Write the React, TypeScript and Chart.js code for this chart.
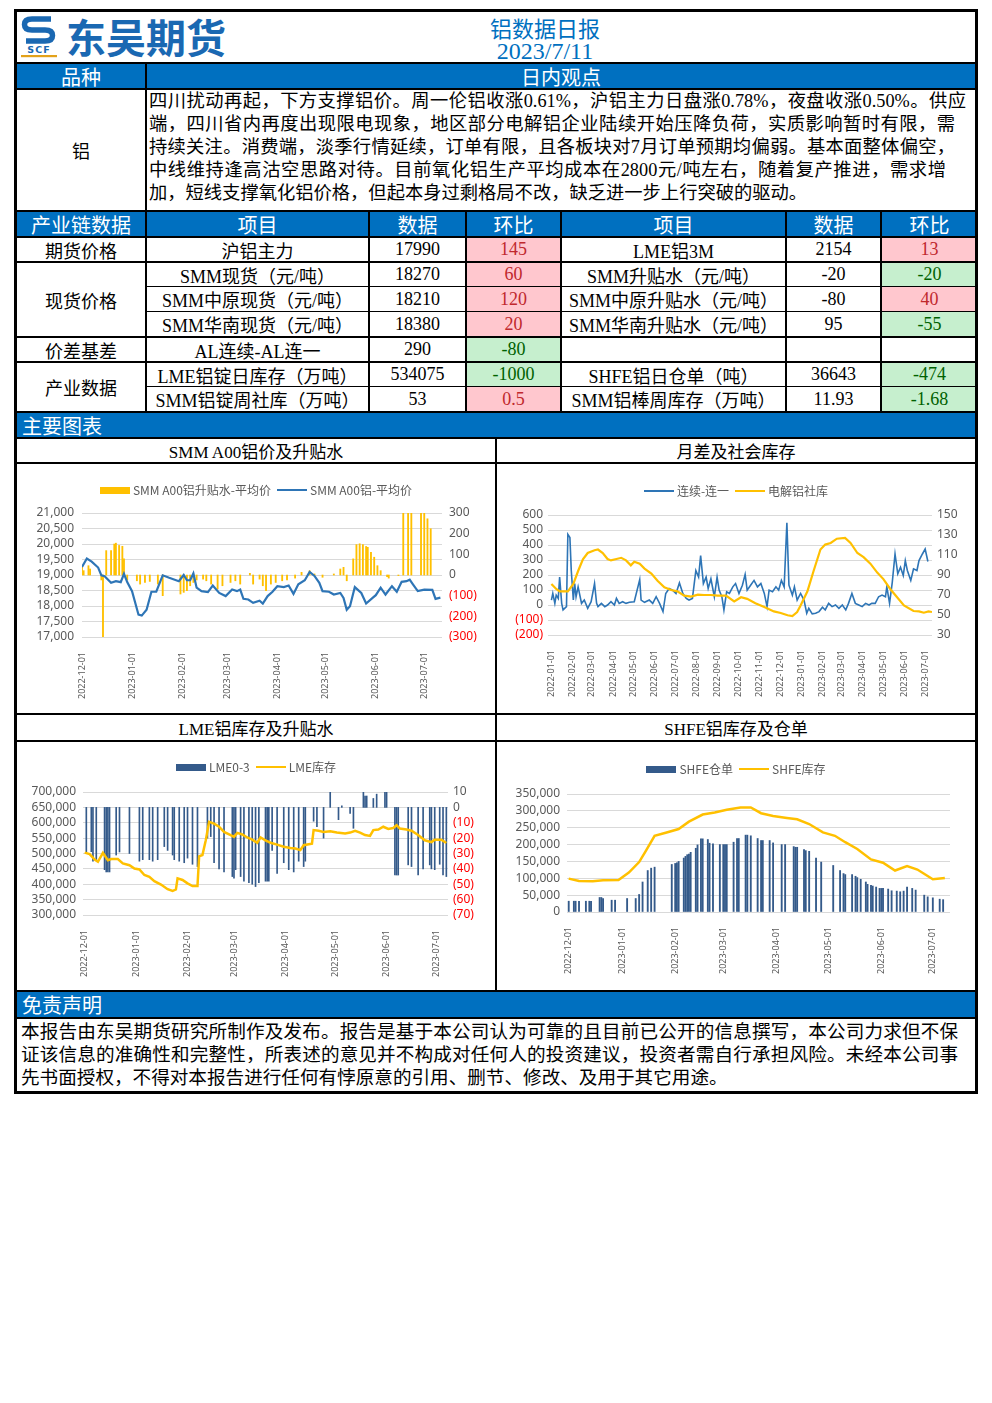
import React, { useEffect, useRef } from 'react';
import { Chart, registerables } from 'chart.js';

Chart.register(...registerables);

// ---------------- SMM A00 aluminium: average price (line) & premium (bars) ----------------
const a00PriceDates = [
  '2022-12-01', '2022-12-04', '2022-12-07', '2022-12-11', '2022-12-13', '2022-12-15', '2022-12-19', '2022-12-22', '2022-12-25', '2022-12-27',
  '2022-12-29', '2023-01-01', '2023-01-05', '2023-01-07', '2023-01-10', '2023-01-13', '2023-01-16', '2023-01-20', '2023-01-24', '2023-01-30',
  '2023-02-02', '2023-02-04', '2023-02-06', '2023-02-08', '2023-02-10', '2023-02-13', '2023-02-17', '2023-02-20', '2023-02-24', '2023-02-28',
  '2023-03-04', '2023-03-07', '2023-03-09', '2023-03-11', '2023-03-14', '2023-03-17', '2023-03-21', '2023-03-23', '2023-03-26', '2023-03-29',
  '2023-04-01', '2023-04-05', '2023-04-08', '2023-04-11', '2023-04-14', '2023-04-18', '2023-04-21', '2023-04-24', '2023-04-27', '2023-04-29',
  '2023-05-03', '2023-05-06', '2023-05-10', '2023-05-12', '2023-05-14', '2023-05-16', '2023-05-19', '2023-05-23', '2023-05-26', '2023-05-30',
  '2023-06-01', '2023-06-04', '2023-06-07', '2023-06-11', '2023-06-14', '2023-06-17', '2023-06-20', '2023-06-22', '2023-06-24', '2023-06-27',
  '2023-07-01', '2023-07-06', '2023-07-08', '2023-07-11',
];
const a00PriceValues = [
  19260, 19530, 19430, 19240, 18990, 18960, 18750, 18800, 18770, 19040,
  18770, 18480, 17720, 17690, 17880, 18460, 18460, 18990, 18910, 18800,
  19000, 18830, 18830, 19050, 18590, 18480, 18450, 18660, 18420, 18320,
  18530, 18480, 18530, 18230, 18210, 18100, 18170, 18080, 18320, 18460,
  18640, 18610, 18660, 18390, 18700, 18830, 19100, 18970, 18750, 18480,
  18460, 18370, 18420, 18260, 17880, 17990, 18610, 18420, 18080, 18260,
  18350, 18590, 18370, 18640, 18460, 18780, 18800, 18850, 18700, 18480,
  18530, 18520, 18230, 18270,
];
const a00PremiumDates = [
  '2022-12-01', '2022-12-02', '2022-12-05', '2022-12-06', '2022-12-13', '2022-12-14', '2022-12-16', '2022-12-19', '2022-12-21', '2022-12-22',
  '2022-12-24', '2022-12-26', '2022-12-27', '2022-12-29', '2023-01-04', '2023-01-06', '2023-01-09', '2023-01-12', '2023-01-17', '2023-01-20',
  '2023-01-31', '2023-02-02', '2023-02-04', '2023-02-06', '2023-02-08', '2023-02-10', '2023-02-14', '2023-02-16', '2023-02-19', '2023-02-23',
  '2023-02-26', '2023-03-03', '2023-03-06', '2023-03-09', '2023-03-15', '2023-03-17', '2023-03-21', '2023-03-23', '2023-03-25', '2023-03-28',
  '2023-03-31', '2023-04-04', '2023-04-07', '2023-04-12', '2023-04-16', '2023-04-21', '2023-04-24', '2023-04-29', '2023-05-06', '2023-05-10',
  '2023-05-12', '2023-05-14', '2023-05-18', '2023-05-20', '2023-05-22', '2023-05-24', '2023-05-26', '2023-05-27', '2023-05-29', '2023-05-31',
  '2023-06-02', '2023-06-04', '2023-06-08', '2023-06-09', '2023-06-15', '2023-06-18', '2023-06-21', '2023-06-23', '2023-06-29', '2023-07-01',
  '2023-07-03', '2023-07-05',
];
const a00PremiumValues = [
  37, 21, 45, 29, -24, -300, 118, 118, 150, 154,
  143, 139, 78, -24, -28, -44, -36, -31, -44, -100,
  -92, -84, -76, -52, -36, -24, -20, -28, -44, -68,
  -52, -36, -28, -44, 8, -44, -20, -52, -76, -44,
  -36, -28, -24, -15, 13, 21, 5, -11, 5, 29,
  37, -28, 78, 147, 151, 147, 138, 134, 110, 86,
  45, 21, -8, -15, -3, 300, 300, 300, 300, 300,
  272, 224,
];

// ---------------- AL continuous minus AL first month (line) & electrolytic aluminium social stock ----------------
const spreadDates = [
  '2022-01-01', '2022-01-03', '2022-01-06', '2022-01-08', '2022-01-11', '2022-01-13', '2022-01-16', '2022-01-18', '2022-01-23', '2022-01-25',
  '2022-01-28', '2022-01-30', '2022-02-02', '2022-02-04', '2022-02-06', '2022-02-09', '2022-02-14', '2022-02-18', '2022-02-23', '2022-02-28',
  '2022-03-05', '2022-03-08', '2022-03-10', '2022-03-15', '2022-03-20', '2022-03-24', '2022-03-29', '2022-04-03', '2022-04-06', '2022-04-10',
  '2022-04-15', '2022-04-20', '2022-04-25', '2022-05-02', '2022-05-10', '2022-05-12', '2022-05-17', '2022-05-24', '2022-05-29', '2022-06-03',
  '2022-06-08', '2022-06-13', '2022-06-17', '2022-06-22', '2022-06-27', '2022-07-02', '2022-07-07', '2022-07-12', '2022-07-17', '2022-07-21',
  '2022-07-26', '2022-07-31', '2022-08-04', '2022-08-07', '2022-08-11', '2022-08-15', '2022-08-18', '2022-08-22', '2022-08-27', '2022-08-31',
  '2022-09-03', '2022-09-07', '2022-09-10', '2022-09-14', '2022-09-18', '2022-09-23', '2022-09-27', '2022-10-02', '2022-10-07', '2022-10-11',
  '2022-10-14', '2022-10-19', '2022-10-24', '2022-10-29', '2022-11-03', '2022-11-08', '2022-11-12', '2022-11-15', '2022-11-20', '2022-11-25',
  '2022-11-29', '2022-12-03', '2022-12-07', '2022-12-11', '2022-12-14', '2022-12-19', '2022-12-22', '2022-12-26', '2022-12-31', '2023-01-05',
  '2023-01-09', '2023-01-12', '2023-01-17', '2023-01-22', '2023-01-27', '2023-02-01', '2023-02-05', '2023-02-10', '2023-02-15', '2023-02-20',
  '2023-02-25', '2023-03-02', '2023-03-07', '2023-03-11', '2023-03-16', '2023-03-21', '2023-03-26', '2023-03-31', '2023-04-05', '2023-04-10',
  '2023-04-14', '2023-04-19', '2023-04-24', '2023-04-29', '2023-05-04', '2023-05-06', '2023-05-10', '2023-05-14', '2023-05-18', '2023-05-22',
  '2023-05-26', '2023-05-30', '2023-06-02', '2023-06-05', '2023-06-10', '2023-06-14', '2023-06-19', '2023-06-22', '2023-06-27', '2023-07-01',
  '2023-07-05',
];
const spreadValues = [
  33, 77, 11, 66, 44, 186, 11, -33, -11, 471,
  450, 230, 33, 143, 55, 121, 11, 33, -22, 22,
  143, 11, -11, 11, -11, 0, 22, 0, 44, 11,
  22, 11, 18, 22, 169, 33, 18, 33, 11, 55,
  11, -44, 77, 110, 99, 77, 147, 77, 44, 33,
  44, 230, 186, 329, 143, 186, 110, 175, 55, 186,
  99, 55, -33, 88, 77, 121, 143, 77, 132, 204,
  99, 132, 164, 121, 143, 77, -11, 99, 88, 121,
  99, 164, 121, 548, 132, 66, 121, 33, 77, 33,
  -55, -22, -59, -55, -44, -15, -33, 11, -11, 0,
  -22, 0, -33, 11, 77, 11, 0, -11, 11, 0,
  11, 11, 55, 66, 55, 121, 11, 153, 340, 208,
  252, 197, 296, 230, 164, 241, 230, 296, 340, 373,
  290,
];
const socialStockDates = [
  '2022-01-01', '2022-01-08', '2022-01-13', '2022-01-25', '2022-02-02', '2022-02-09', '2022-02-16', '2022-02-23', '2022-03-05', '2022-03-10',
  '2022-03-17', '2022-03-24', '2022-03-29', '2022-04-06', '2022-04-13', '2022-04-20', '2022-04-27', '2022-05-02', '2022-05-10', '2022-05-17',
  '2022-05-27', '2022-06-05', '2022-06-15', '2022-06-25', '2022-07-04', '2022-07-14', '2022-07-24', '2022-08-03', '2022-08-12', '2022-08-22',
  '2022-09-01', '2022-09-13', '2022-09-25', '2022-10-05', '2022-10-14', '2022-10-26', '2022-11-08', '2022-11-22', '2022-12-02', '2022-12-12',
  '2022-12-19', '2022-12-26', '2022-12-31', '2023-01-10', '2023-01-19', '2023-01-29', '2023-02-05', '2023-02-13', '2023-02-22', '2023-03-06',
  '2023-03-14', '2023-03-24', '2023-04-02', '2023-04-12', '2023-04-22', '2023-05-01', '2023-05-11', '2023-05-21', '2023-05-31', '2023-06-14',
  '2023-06-22', '2023-06-29', '2023-07-06', '2023-07-11',
];
const socialStockValues = [
  81, 76, 73.7, 73.7, 81, 94, 105.6, 112, 114.8, 115.5,
  112, 106, 104.6, 106, 107.2, 104.6, 99.7, 103.3, 101.3, 96.4,
  91.4, 84.2, 77.6, 75, 73.7, 69.4, 68.4, 70.4, 70, 70,
  69.4, 69.4, 63.5, 67.8, 66.1, 61.8, 57.9, 53.6, 52, 49.7,
  49, 53, 59.5, 73.7, 94, 115.5, 120.4, 122, 126.3, 127,
  122, 112, 107.9, 101.3, 92.4, 85.9, 76, 67.8, 59.5, 54,
  53.6, 52.3, 53.6, 53,
];

// ---------------- LME aluminium stock (line) & cash-3M spread (bars) ----------------
const lmeStockDates = [
  '2022-12-01', '2022-12-04', '2022-12-07', '2022-12-09', '2022-12-12', '2022-12-15', '2022-12-17', '2022-12-21', '2022-12-24', '2022-12-28',
  '2022-12-31', '2023-01-03', '2023-01-06', '2023-01-09', '2023-01-12', '2023-01-16', '2023-01-20', '2023-01-23', '2023-01-25', '2023-01-26',
  '2023-01-29', '2023-02-01', '2023-02-04', '2023-02-07', '2023-02-08', '2023-02-10', '2023-02-12', '2023-02-14', '2023-02-17', '2023-02-20',
  '2023-02-23', '2023-02-27', '2023-03-01', '2023-03-03', '2023-03-06', '2023-03-09', '2023-03-12', '2023-03-15', '2023-03-17', '2023-03-20',
  '2023-03-23', '2023-03-27', '2023-03-31', '2023-04-04', '2023-04-07', '2023-04-10', '2023-04-12', '2023-04-15', '2023-04-17', '2023-04-18',
  '2023-04-21', '2023-04-24', '2023-04-28', '2023-05-02', '2023-05-07', '2023-05-10', '2023-05-13', '2023-05-16', '2023-05-19', '2023-05-22',
  '2023-05-24', '2023-05-27', '2023-05-30', '2023-06-02', '2023-06-05', '2023-06-07', '2023-06-09', '2023-06-13', '2023-06-16', '2023-06-20',
  '2023-06-24', '2023-06-28', '2023-06-30', '2023-07-04', '2023-07-07',
];
const lmeStockValues = [
  503000, 498000, 480000, 473000, 502000, 478000, 482000, 482000, 468000, 462000,
  451000, 448000, 430000, 424000, 410000, 399000, 384000, 378000, 383000, 419000,
  414000, 403000, 394000, 394000, 491000, 495000, 543000, 603000, 597000, 587000,
  570000, 560000, 554000, 567000, 562000, 552000, 545000, 535000, 552000, 543000,
  535000, 529000, 522000, 518000, 516000, 511000, 527000, 530000, 532000, 576000,
  574000, 570000, 572000, 568000, 565000, 568000, 574000, 568000, 560000, 557000,
  576000, 578000, 587000, 580000, 583000, 592000, 581000, 578000, 574000, 560000,
  543000, 537000, 545000, 545000, 534075,
];
const lmeSpreadDates = [
  '2022-12-02', '2022-12-05', '2022-12-06', '2022-12-08', '2022-12-13', '2022-12-14', '2022-12-15', '2022-12-16', '2022-12-20', '2022-12-22',
  '2022-12-28', '2023-01-03', '2023-01-05', '2023-01-09', '2023-01-11', '2023-01-14', '2023-01-18', '2023-01-20', '2023-01-23', '2023-01-24',
  '2023-01-27', '2023-01-30', '2023-02-01', '2023-02-04', '2023-02-07', '2023-02-13', '2023-02-15', '2023-02-17', '2023-02-20', '2023-02-23',
  '2023-02-28', '2023-03-01', '2023-03-02', '2023-03-05', '2023-03-07', '2023-03-10', '2023-03-12', '2023-03-14', '2023-03-16', '2023-03-20',
  '2023-03-21', '2023-03-22', '2023-03-24', '2023-03-27', '2023-03-31', '2023-04-03', '2023-04-06', '2023-04-09', '2023-04-12', '2023-04-13',
  '2023-04-18', '2023-04-20', '2023-04-24', '2023-04-28', '2023-05-03', '2023-05-05', '2023-05-10', '2023-05-12', '2023-05-18', '2023-05-19',
  '2023-05-20', '2023-05-24', '2023-05-26', '2023-05-31', '2023-06-01', '2023-06-06', '2023-06-07', '2023-06-08', '2023-06-14', '2023-06-16',
  '2023-06-20', '2023-06-23', '2023-06-27', '2023-06-28', '2023-06-30', '2023-07-03', '2023-07-05', '2023-07-07',
];
const lmeSpreadValues = [
  -28.8, -28.8, -35, -34, -40.5, -42, -42, -42, -31, -29,
  -30, -35, -34, -34, -35, -34, -25.5, -28, -31, -34,
  -35, -36, -33, -37, -38.5, -20, -19, -36, -40, -42,
  -45, -46, -40.5, -45, -48, -49, -50, -51.5, -49, -48,
  -48, -48, -28, -43, -36, -40.5, -42, -35, -38.5, -35,
  -9, -12.5, -20, 10, -8, 1, -4, -13.6, 10, 7.4,
  7.4, 5.8, 8.6, 10, 10, -44, -44, -44, -37.4, -38.5,
  -44, -40, -37.4, -40, -40.5, -37, -44, -45,
];

// ---------------- SHFE aluminium stock (line) & warrants (bars) ----------------
const shfeStockDates = [
  '2022-12-01', '2022-12-07', '2022-12-15', '2022-12-21', '2022-12-30', '2023-01-05', '2023-01-11', '2023-01-15', '2023-01-20', '2023-01-27',
  '2023-02-03', '2023-02-09', '2023-02-17', '2023-02-24', '2023-03-03', '2023-03-11', '2023-03-17', '2023-03-23', '2023-03-30', '2023-04-07',
  '2023-04-13', '2023-04-20', '2023-04-28', '2023-05-05', '2023-05-11', '2023-05-18', '2023-05-26', '2023-06-02', '2023-06-09', '2023-06-16',
  '2023-06-22', '2023-07-01', '2023-07-08',
];
const shfeStockValues = [
  99000, 92000, 91000, 94000, 95000, 117000, 148000, 182000, 226000, 236000,
  246000, 268000, 289000, 295000, 303000, 310000, 310000, 293000, 285000, 279000,
  275000, 261000, 236000, 226000, 207000, 187000, 156000, 146000, 123000, 136000,
  126000, 97000, 101000,
];
const shfeWarrantDates = [
  '2022-12-01', '2022-12-04', '2022-12-05', '2022-12-07', '2022-12-11', '2022-12-13', '2022-12-14', '2022-12-19', '2022-12-20', '2022-12-21',
  '2022-12-26', '2022-12-28', '2023-01-04', '2023-01-09', '2023-01-11', '2023-01-13', '2023-01-16', '2023-01-18', '2023-01-20', '2023-01-30',
  '2023-02-01', '2023-02-02', '2023-02-03', '2023-02-06', '2023-02-07', '2023-02-08', '2023-02-09', '2023-02-10', '2023-02-13', '2023-02-14',
  '2023-02-16', '2023-02-17', '2023-02-20', '2023-02-21', '2023-02-23', '2023-02-27', '2023-03-01', '2023-03-02', '2023-03-03', '2023-03-07',
  '2023-03-09', '2023-03-10', '2023-03-14', '2023-03-15', '2023-03-17', '2023-03-21', '2023-03-23', '2023-03-24', '2023-03-28', '2023-03-30',
  '2023-04-04', '2023-04-06', '2023-04-11', '2023-04-12', '2023-04-13', '2023-04-17', '2023-04-18', '2023-04-20', '2023-04-24', '2023-04-27',
  '2023-05-04', '2023-05-08', '2023-05-10', '2023-05-11', '2023-05-15', '2023-05-17', '2023-05-18', '2023-05-20', '2023-05-23', '2023-05-24',
  '2023-05-26', '2023-05-27', '2023-05-29', '2023-05-31', '2023-06-01', '2023-06-02', '2023-06-05', '2023-06-07', '2023-06-10', '2023-06-12',
  '2023-06-14', '2023-06-16', '2023-06-19', '2023-06-21', '2023-06-26', '2023-06-28', '2023-07-01', '2023-07-05', '2023-07-07',
];
const shfeWarrantValues = [
  32000, 32000, 32000, 32000, 32000, 32000, 32000, 43000, 43000, 40000,
  35000, 35000, 40000, 40000, 52000, 89000, 123000, 130000, 133000, 141000,
  144000, 146000, 150000, 160000, 165000, 170000, 172000, 177000, 189000, 199000,
  217000, 217000, 215000, 204000, 202000, 200000, 200000, 200000, 200000, 207000,
  218000, 218000, 228000, 228000, 226000, 218000, 212000, 212000, 212000, 205000,
  200000, 200000, 194000, 192000, 192000, 185000, 182000, 180000, 160000, 148000,
  138000, 123000, 114000, 111000, 111000, 106000, 102000, 97000, 89000, 82000,
  79000, 77000, 74000, 70000, 70000, 70000, 68000, 63000, 62000, 60000,
  62000, 74000, 70000, 65000, 50000, 45000, 42000, 38000, 36643,
];

// ---------------- report text ----------------
const reportTitle = '铝数据日报';
const reportDate = '2023/7/11';
const opinionLines = [
  '四川扰动再起，下方支撑铝价。周一伦铝收涨0.61%，沪铝主力日盘涨0.78%，夜盘收涨0.50%。供应',
  '端，四川省内再度出现限电现象，地区部分电解铝企业陆续开始压降负荷，实质影响暂时有限，需',
  '持续关注。消费端，淡季行情延续，订单有限，且各板块对7月订单预期均偏弱。基本面整体偏空，',
  '中线维持逢高沽空思路对待。目前氧化铝生产平均成本在2800元/吨左右，随着复产推进，需求增',
  '加，短线支撑氧化铝价格，但起本身过剩格局不改，缺乏进一步上行突破的驱动。',
];
const disclaimerLines = [
  '本报告由东吴期货研究所制作及发布。报告是基于本公司认为可靠的且目前已公开的信息撰写，本公司力求但不保',
  '证该信息的准确性和完整性，所表述的意见并不构成对任何人的投资建议，投资者需自行承担风险。未经本公司事',
  '先书面授权，不得对本报告进行任何有悖原意的引用、删节、修改、及用于其它用途。',
];
const tableHeader = ['产业链数据', '项目', '数据', '环比', '项目', '数据', '环比'];
const tableGroups = [
  { name: '期货价格', rows: [['沪铝主力', '17990', '145', 'LME铝3M', '2154', '13']] },
  {
    name: '现货价格',
    rows: [
      ['SMM现货（元/吨）', '18270', '60', 'SMM升贴水（元/吨）', '-20', '-20'],
      ['SMM中原现货（元/吨）', '18210', '120', 'SMM中原升贴水（元/吨）', '-80', '40'],
      ['SMM华南现货（元/吨）', '18380', '20', 'SMM华南升贴水（元/吨）', '95', '-55'],
    ],
  },
  { name: '价差基差', rows: [['AL连续-AL连一', '290', '-80', '', '', '']] },
  {
    name: '产业数据',
    rows: [
      ['LME铝锭日库存（万吨）', '534075', '-1000', 'SHFE铝日仓单（吨）', '36643', '-474'],
      ['SMM铝锭周社库（万吨）', '53', '0.5', 'SMM铝棒周库存（万吨）', '11.93', '-1.68'],
    ],
  },
];

// ---------------- styling ----------------
const CJK = '"Noto Sans CJK SC", sans-serif';
const SERIF = '"Liberation Serif", "Noto Sans CJK SC", serif';
const NUM = '"Noto Sans", "Noto Sans CJK SC", sans-serif';
const BAND = '#0070C0';
const GOLD = '#FFC000';
const LINE_BLUE = '#2E75B6';
const BAR_BLUE = '#345A8A';
const TICK = '#595959';
const GRID = '#D9D9D9';

// ---------------- chart helpers ----------------
const DAY = 86400000;
const dayNum = (iso: string) => Date.UTC(+iso.slice(0, 4), +iso.slice(5, 7) - 1, +iso.slice(8, 10)) / DAY;
const isoOf = (n: number) => new Date(Math.round(n) * DAY).toISOString().slice(0, 10);
const monthStarts = (from: string, to: string) => {
  const out: number[] = [];
  let y = +from.slice(0, 4);
  let m = +from.slice(5, 7) - 1;
  const end = dayNum(to);
  for (;;) {
    const v = Date.UTC(y, m, 1) / DAY;
    if (v > end) break;
    out.push(v);
    m += 1;
    if (m > 11) { m = 0; y += 1; }
  }
  return out;
};
const pts = (dates: string[], values: number[]) => dates.map((d, i) => ({ x: dayNum(d), y: values[i] }));
const thousands = (v: number) => Math.round(v).toLocaleString('en-US');
const paren = (v: number) => (v < 0 ? `(${Math.abs(v)})` : String(v));
const negRed = (ctx: any) => (ctx.tick && ctx.tick.value < 0 ? '#FF0000' : TICK);

const xAxis = (firstMonth: string, min: string, max: string, height: number) => ({
  type: 'linear',
  min: dayNum(min),
  max: dayNum(max),
  offset: false,
  grid: { display: false },
  border: { display: false },
  ticks: {
    autoSkip: false,
    minRotation: 90,
    maxRotation: 90,
    padding: 7,
    color: TICK,
    font: { family: NUM, size: 9 },
    callback: (v: number) => isoOf(v),
  },
  afterBuildTicks: (s: any) => {
    s.ticks = monthStarts(firstMonth, max).map((v) => ({ value: v }));
  },
  afterFit: (s: any) => {
    s.height = height;
  },
});

const yAxis = (position: string, min: number, max: number, step: number, width: number, fmt: (v: number) => string, grid: boolean, pad: number) => ({
  type: 'linear',
  position,
  min,
  max,
  grid: { display: grid, color: GRID, drawTicks: false, lineWidth: 1 },
  border: { display: false },
  ticks: {
    stepSize: step,
    autoSkip: false,
    padding: pad,
    color: negRed,
    font: { family: NUM, size: 12 },
    callback: (v: number) => fmt(v),
  },
  afterFit: (s: any) => {
    s.width = width;
  },
});

const baseOptions = (top: number, right: number, scales: any) => ({
  animation: false,
  responsive: false,
  events: [],
  layout: { padding: { top, left: 0, right, bottom: 0 } },
  plugins: { legend: { display: false }, tooltip: { enabled: false } },
  scales,
});

const a00Config = () => ({
  type: 'line',
  data: {
    datasets: [
      { type: 'line', label: 'SMM A00铝-平均价', data: pts(a00PriceDates, a00PriceValues), borderColor: LINE_BLUE, borderWidth: 2.2, pointRadius: 0, tension: 0, yAxisID: 'y', order: 0 },
      { type: 'bar', label: 'SMM A00铝升贴水-平均价', data: pts(a00PremiumDates, a00PremiumValues), backgroundColor: GOLD, barThickness: 1.2, yAxisID: 'y1', order: 1, clip: 0 },
    ],
  },
  options: baseOptions(49, 0, {
    x: xAxis('2022-12-01', '2022-12-01', '2023-07-12', 76),
    y: yAxis('left', 17000, 21000, 500, 65, thousands, true, 8),
    y1: yAxis('right', -300, 300, 100, 53, paren, false, 7),
  }),
});

const spreadConfig = () => ({
  type: 'line',
  data: {
    datasets: [
      { type: 'line', label: '电解铝社库', data: pts(socialStockDates, socialStockValues), borderColor: GOLD, borderWidth: 2.2, pointRadius: 0, tension: 0, yAxisID: 'y1', order: 0 },
      { type: 'line', label: '连续-连一', data: pts(spreadDates, spreadValues), borderColor: LINE_BLUE, borderWidth: 1.6, pointRadius: 0, tension: 0, yAxisID: 'y', order: 1 },
    ],
  },
  options: baseOptions(51, 0, {
    x: xAxis('2022-01-01', '2021-12-27', '2023-07-11', 78),
    y: yAxis('left', -200, 600, 100, 51, paren, true, 5),
    y1: yAxis('right', 30, 150, 20, 43, paren, false, 5),
  }),
});

const lmeConfig = () => ({
  type: 'line',
  data: {
    datasets: [
      { type: 'line', label: 'LME库存', data: pts(lmeStockDates, lmeStockValues), borderColor: GOLD, borderWidth: 2.5, pointRadius: 0, tension: 0, yAxisID: 'y', order: 0 },
      { type: 'bar', label: 'LME0-3', data: pts(lmeSpreadDates, lmeSpreadValues), backgroundColor: BAR_BLUE, barThickness: 1, yAxisID: 'y1', order: 1, clip: 0 },
    ],
  },
  options: baseOptions(50, 0, {
    x: xAxis('2022-12-01', '2022-11-30', '2023-07-08', 75),
    y: yAxis('left', 300000, 700000, 50000, 66, thousands, true, 7),
    y1: yAxis('right', -70, 10, 10, 47, paren, false, 5),
  }),
});

const shfeConfig = () => ({
  type: 'line',
  data: {
    datasets: [
      { type: 'line', label: 'SHFE库存', data: pts(shfeStockDates, shfeStockValues), borderColor: GOLD, borderWidth: 2.5, pointRadius: 0, tension: 0, yAxisID: 'y', order: 0 },
      { type: 'bar', label: 'SHFE仓单', data: pts(shfeWarrantDates, shfeWarrantValues), backgroundColor: BAR_BLUE, barThickness: 1.2, yAxisID: 'y', order: 1, clip: 0 },
    ],
  },
  options: baseOptions(52, 25, {
    x: xAxis('2022-12-01', '2022-11-30', '2023-07-11', 78),
    y: yAxis('left', 0, 350000, 50000, 70, thousands, true, 7),
  }),
});

// ---------------- components ----------------
type LegendItem = { label: string; kind: 'bar' | 'line'; color: string };

function ChartPanel({ left, top, width, height, legendY, legend, build }: { left: number; top: number; width: number; height: number; legendY: number; legend: LegendItem[]; build: () => any }) {
  const ref = useRef<HTMLCanvasElement | null>(null);
  useEffect(() => {
    const chart = new Chart(ref.current as HTMLCanvasElement, build());
    return () => chart.destroy();
  }, []);
  return (
    <>
      <canvas ref={ref} width={width} height={height} style={{ position: 'absolute', left, top, width, height }} />
      <div
        style={{
          position: 'absolute', left, top: top + legendY - 9, width, height: 18,
          display: 'flex', justifyContent: 'center', alignItems: 'center',
          fontFamily: CJK, fontSize: 12, color: TICK, whiteSpace: 'nowrap',
        }}
      >
        {legend.map((it, i) => (
          <div key={i} style={{ display: 'flex', alignItems: 'center', marginLeft: i ? 6 : 0 }}>
            <span style={{ display: 'inline-block', width: 30, height: it.kind === 'bar' ? 7 : 2.5, background: it.color, marginRight: 3 }} />
            <span style={{ lineHeight: '18px' }}>{it.label}</span>
          </div>
        ))}
      </div>
    </>
  );
}

function Box({ x, y, w, h, bg, children, style }: { x: number; y: number; w: number; h: number; bg?: string; children?: any; style?: any }) {
  return (
    <div
      style={{
        position: 'absolute', left: x, top: y, width: w, height: h, background: bg,
        display: 'flex', alignItems: 'center', justifyContent: 'center', whiteSpace: 'nowrap', overflow: 'visible',
        ...style,
      }}
    >
      {children}
    </div>
  );
}

function Rule({ x, y, w, h }: { x: number; y: number; w: number; h: number }) {
  return <div style={{ position: 'absolute', left: x, top: y, width: w, height: h, background: '#000' }} />;
}

function Logo() {
  return (
    <svg style={{ position: 'absolute', left: 20, top: 15 }} width={38} height={43} viewBox="0 0 38 43">
      <path d="M31 4 H12 Q4.5 4 4.5 9.5 Q4.5 15 12 15 H25 Q32.5 15 32.5 20.5 Q32.5 26 25 26 H6" fill="none" stroke="#1A68B2" strokeWidth="5.5" />
      <text x="19" y="38" textAnchor="middle" fontFamily='"DejaVu Sans"' fontWeight="bold" fontSize="9.5" fill="#1A68B2" letterSpacing="1">SCF</text>
      <rect x="1" y="40" width="36" height="2.2" fill="#E3A21A" />
    </svg>
  );
}

const COLS = [15, 145, 368, 465, 560, 785, 880, 977];
const ROW_EDGES = [236, 261, 286, 311, 336, 361, 386, 411];
const THIN_ROWS = [286, 311, 386];

const changeStyle = (v: string) => {
  if (!v) return {};
  const n = parseFloat(v);
  return n < 0 ? { background: '#C6EFCE', color: '#006100' } : { background: '#FFC7CE', color: '#C0282D' };
};

export default function App() {
  const bandText = { color: '#fff', fontFamily: CJK, fontSize: 20 };
  const cellText = { fontFamily: SERIF, fontSize: 18, color: '#000' };

  // flatten table rows with their vertical extents
  const flatRows: { cells: string[]; top: number; bottom: number }[] = [];
  const groupCells: { name: string; top: number; bottom: number }[] = [];
  let r = 0;
  tableGroups.forEach((g) => {
    const gTop = ROW_EDGES[r] + 2;
    g.rows.forEach((cells) => {
      const edge = ROW_EDGES[r];
      const t = edge + (THIN_ROWS.includes(edge) ? 1 : 2);
      flatRows.push({ cells, top: t, bottom: ROW_EDGES[r + 1] });
      r += 1;
    });
    groupCells.push({ name: g.name, top: gTop, bottom: ROW_EDGES[r] });
  });

  const fullRules = [62, 88, 210, 236, 261, 336, 361, 411, 437, 462, 713, 740, 990, 1017];

  return (
    <div style={{ position: 'absolute', left: 0, top: 0, width: 992, height: 1403, background: '#fff' }}>
      {/* header */}
      <Logo />
      <div style={{ position: 'absolute', left: 66, top: 11, fontFamily: CJK, fontWeight: 700, fontSize: 40, lineHeight: '50px', color: '#1A68B2', whiteSpace: 'nowrap' }}>东吴期货</div>
      <Box x={445} y={13} w={200} h={27} style={{ fontFamily: CJK, fontSize: 22, color: BAND }}>{reportTitle}</Box>
      <Box x={445} y={38} w={200} h={26} style={{ fontFamily: SERIF, fontSize: 24, color: BAND }}>{reportDate}</Box>

      {/* blue bands */}
      <Box x={17} y={64} w={958} h={24} bg={BAND} />
      <Box x={17} y={212} w={958} h={24} bg={BAND} />
      <Box x={17} y={413} w={958} h={24} bg={BAND} />
      <Box x={17} y={992} w={958} h={25} bg={BAND} />

      <Box x={17} y={64} w={128} h={24} style={bandText}>品种</Box>
      <Box x={147} y={64} w={828} h={24} style={bandText}>日内观点</Box>

      {/* daily view */}
      <Box x={17} y={90} w={128} h={120} style={cellText}>铝</Box>
      {opinionLines.map((line, i) => {
        const widths = [817, 806, 806, 797];
        const w = widths[i];
        return (
          <div
            key={i}
            style={{
              position: 'absolute', left: 149, top: 90 + i * 23, height: 23, lineHeight: '23px',
              width: w || undefined, whiteSpace: 'nowrap', fontFamily: SERIF, fontSize: 18.3, color: '#000',
              textAlign: w ? 'justify' : 'left', textAlignLast: w ? 'justify' : 'left',
            } as any}
          >
            {line}
          </div>
        );
      })}

      {/* table header */}
      {tableHeader.map((h, c) => (
        <Box key={c} x={COLS[c] + 2} y={212} w={COLS[c + 1] - COLS[c] - 2} h={24} style={bandText}>{h}</Box>
      ))}

      {/* table body */}
      {groupCells.map((g, i) => (
        <Box key={i} x={17} y={g.top} w={128} h={g.bottom - g.top} style={cellText}>{g.name}</Box>
      ))}
      {flatRows.map((row, ri) =>
        row.cells.map((txt, ci) => {
          const c = ci + 1;
          const isChange = ci === 2 || ci === 5;
          return (
            <Box
              key={`${ri}-${ci}`}
              x={COLS[c] + 2}
              y={row.top}
              w={COLS[c + 1] - COLS[c] - 2}
              h={row.bottom - row.top}
              style={{ ...cellText, ...(isChange ? changeStyle(txt) : {}) }}
            >
              {txt}
            </Box>
          );
        }),
      )}

      <Box x={22} y={413} w={200} h={24} style={{ ...bandText, justifyContent: 'flex-start' }}>主要图表</Box>

      {/* chart titles */}
      <Box x={17} y={439} w={478} h={23} style={{ fontFamily: SERIF, fontSize: 17 }}>SMM A00铝价及升贴水</Box>
      <Box x={497} y={439} w={478} h={23} style={{ fontFamily: SERIF, fontSize: 17 }}>月差及社会库存</Box>
      <Box x={17} y={715} w={478} h={25} style={{ fontFamily: SERIF, fontSize: 17 }}>LME铝库存及升贴水</Box>
      <Box x={497} y={715} w={478} h={25} style={{ fontFamily: SERIF, fontSize: 17 }}>SHFE铝库存及仓单</Box>

      <ChartPanel
        left={17} top={464} width={478} height={249} legendY={26}
        legend={[
          { label: 'SMM A00铝升贴水-平均价', kind: 'bar', color: GOLD },
          { label: 'SMM A00铝-平均价', kind: 'line', color: LINE_BLUE },
        ]}
        build={a00Config}
      />
      <ChartPanel
        left={497} top={464} width={478} height={249} legendY={27}
        legend={[
          { label: '连续-连一', kind: 'line', color: LINE_BLUE },
          { label: '电解铝社库', kind: 'line', color: GOLD },
        ]}
        build={spreadConfig}
      />
      <ChartPanel
        left={17} top={742} width={478} height={248} legendY={25}
        legend={[
          { label: 'LME0-3', kind: 'bar', color: BAR_BLUE },
          { label: 'LME库存', kind: 'line', color: GOLD },
        ]}
        build={lmeConfig}
      />
      <ChartPanel
        left={497} top={742} width={478} height={248} legendY={27}
        legend={[
          { label: 'SHFE仓单', kind: 'bar', color: BAR_BLUE },
          { label: 'SHFE库存', kind: 'line', color: GOLD },
        ]}
        build={shfeConfig}
      />

      {/* disclaimer */}
      <Box x={22} y={992} w={200} h={25} style={{ ...bandText, justifyContent: 'flex-start' }}>免责声明</Box>
      {disclaimerLines.map((line, i) => {
        const w = i < 2 ? 937 : 0;
        return (
          <div
            key={i}
            style={{
              position: 'absolute', left: 21, top: 1020 + i * 23, height: 23, lineHeight: '23px',
              width: w || undefined, whiteSpace: 'nowrap', fontFamily: SERIF, fontSize: 18.6, color: '#000',
              textAlign: w ? 'justify' : 'left', textAlignLast: w ? 'justify' : 'left',
            } as any}
          >
            {line}
          </div>
        );
      })}

      {/* grid rules */}
      {fullRules.map((y) => (
        <Rule key={`h${y}`} x={15} y={y} w={962} h={2} />
      ))}
      {THIN_ROWS.map((y) => (
        <Rule key={`t${y}`} x={145} y={y} w={832} h={1} />
      ))}
      <Rule x={145} y={62} w={2} h={351} />
      {[368, 465, 560, 785, 880].map((x) => (
        <Rule key={`v${x}`} x={x} y={210} w={2} h={203} />
      ))}
      <Rule x={495} y={437} w={2} h={555} />
      <div style={{ position: 'absolute', left: 14, top: 9, width: 964, height: 1085, border: '3px solid #000', boxSizing: 'border-box' }} />
    </div>
  );
}
